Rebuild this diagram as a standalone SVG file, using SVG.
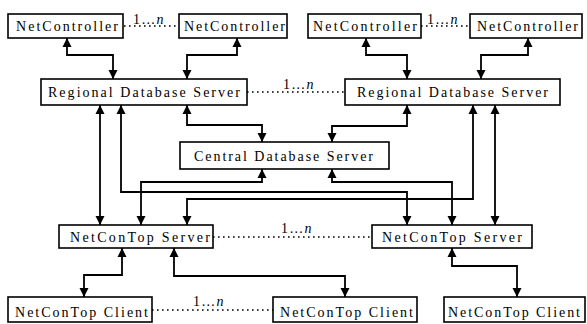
<svg xmlns="http://www.w3.org/2000/svg" width="587" height="324" viewBox="0 0 587 324">
<defs>
<marker id="ah" markerUnits="userSpaceOnUse" markerWidth="10" markerHeight="10" refX="9" refY="5" orient="auto-start-reverse">
<path d="M0,0.5 L9,5 L0,9.5 z" fill="#000"/>
</marker>
<style>
.box{fill:#fff;stroke:#000;stroke-width:1.6}
.t{font-family:"Liberation Serif","Times New Roman",serif;font-size:14px;fill:#000}
.c{fill:none;stroke:#000;stroke-width:1.8;marker-start:url(#ah);marker-end:url(#ah)}
.d{fill:none;stroke:#000;stroke-width:1.6;stroke-dasharray:1.6 3.4}
.l{font-family:"Liberation Serif","Times New Roman",serif;font-size:14px;fill:#000;letter-spacing:1.2px}
</style>
</defs>
<rect width="587" height="324" fill="#fff"/>
<g id="connectors">
<path class="c" d="M67,38 V55 H113 V79"/>
<path class="c" d="M237,38 V55 H187 V79"/>
<path class="c" d="M366,38 V55 H407 V79"/>
<path class="c" d="M528,38 V55 H481 V79"/>
<path class="c" d="M100,105 V225"/>
<path class="c" d="M121,105 V192 H407 V225"/>
<path class="c" d="M187,105 V125 H262 V142"/>
<path class="c" d="M262,169 V182 H141 V225"/>
<path class="c" d="M407,105 V126 H332 V142"/>
<path class="c" d="M332,169 V182 H452 V225"/>
<path class="c" d="M473,105 V199 H187 V225"/>
<path class="c" d="M495,105 V225"/>
<path class="c" d="M122,248 V275 H84 V297"/>
<path class="c" d="M174,248 V276 H345 V297"/>
<path class="c" d="M452,248 V266 H517 V297"/>
<path class="d" d="M124,26 H179"/>
<path class="d" d="M421,26 H470"/>
<path class="d" d="M247,92 H345"/>
<path class="d" d="M213,237 H372"/>
<path class="d" d="M152,310 H273"/>
<text class="l" x="133" y="24">1…<tspan font-style="italic">n</tspan></text>
<text class="l" x="427" y="24">1…<tspan font-style="italic">n</tspan></text>
<text class="l" x="283" y="89">1…<tspan font-style="italic">n</tspan></text>
<text class="l" x="281" y="233">1…<tspan font-style="italic">n</tspan></text>
<text class="l" x="193" y="306">1…<tspan font-style="italic">n</tspan></text>
</g>
<g id="nc1"><rect class="box" x="8" y="14" width="115" height="24"/><text class="t" x="16" y="31" textLength="102" lengthAdjust="spacing">NetController</text></g>
<g id="nc2"><rect class="box" x="179" y="14" width="108" height="24"/><text class="t" x="184" y="31" textLength="101" lengthAdjust="spacing">NetController</text></g>
<g id="nc3"><rect class="box" x="308" y="14" width="113" height="24"/><text class="t" x="313" y="31" textLength="104" lengthAdjust="spacing">NetController</text></g>
<g id="nc4"><rect class="box" x="470" y="14" width="112" height="24"/><text class="t" x="477" y="31" textLength="101" lengthAdjust="spacing">NetController</text></g>
<g id="rds1"><rect class="box" x="41" y="79" width="206" height="26"/><text class="t" x="48" y="97" textLength="192" lengthAdjust="spacing">Regional Database Server</text></g>
<g id="rds2"><rect class="box" x="345" y="79" width="215" height="26"/><text class="t" x="357" y="97" textLength="191" lengthAdjust="spacing">Regional Database Server</text></g>
<g id="cds"><rect class="box" x="180" y="142" width="209" height="27"/><text class="t" x="194" y="161" textLength="179" lengthAdjust="spacing">Central Database Server</text></g>
<g id="nct1"><rect class="box" x="59" y="225" width="154" height="23"/><text class="t" x="70" y="242" textLength="140" lengthAdjust="spacing">NetConTop Server</text></g>
<g id="nct2"><rect class="box" x="372" y="225" width="160" height="23"/><text class="t" x="382" y="242" textLength="140" lengthAdjust="spacing">NetConTop Server</text></g>
<g id="cl1"><rect class="box" x="8" y="297" width="144" height="25"/><text class="t" x="15" y="317" textLength="133" lengthAdjust="spacing">NetConTop Client</text></g>
<g id="cl2"><rect class="box" x="273" y="297" width="144" height="25"/><text class="t" x="280" y="317" textLength="133" lengthAdjust="spacing">NetConTop Client</text></g>
<g id="cl3"><rect class="box" x="444" y="297" width="141" height="25"/><text class="t" x="448" y="317" textLength="132" lengthAdjust="spacing">NetConTop Client</text></g>
</svg>
